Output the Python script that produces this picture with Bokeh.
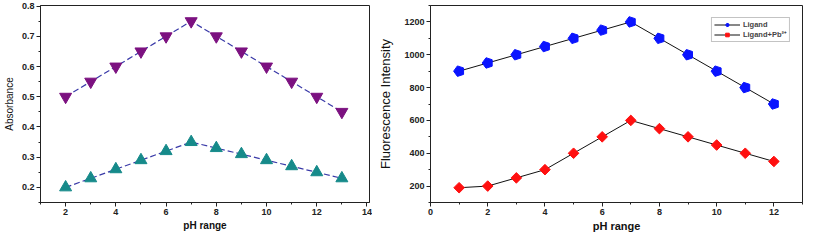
import math
from bokeh.plotting import figure
from bokeh.layouts import row
from bokeh.models import Range1d, SingleIntervalTicker, ColumnDataSource, Legend, LegendItem
from bokeh.embed import file_html
from bokeh.resources import INLINE

# ---- data ----
ph_left = [2, 3, 4, 5, 6, 7, 8, 9, 10, 11, 12, 13]
abs_upper = [0.50, 0.55, 0.60, 0.65, 0.70, 0.75, 0.70, 0.65, 0.60, 0.55, 0.50, 0.45]
abs_lower = [0.20, 0.23, 0.26, 0.29, 0.32, 0.35, 0.33, 0.31, 0.29, 0.27, 0.25, 0.23]

ph_right = [1, 2, 3, 4, 5, 6, 7, 8, 9, 10, 11, 12]
ligand = [900, 950, 1000, 1050, 1100, 1150, 1200, 1100, 1000, 900, 800, 700]
ligand_pb = [190, 200, 250, 300, 400, 500, 600, 550, 500, 450, 400, 350]

FONT = "Liberation Sans"
H = 234


def style(p, xint, yint):
    p.xgrid.visible = False
    p.ygrid.visible = False
    p.outline_line_color = "#222222"
    p.outline_line_width = 1
    p.xaxis.ticker = SingleIntervalTicker(interval=xint, num_minor_ticks=2)
    p.yaxis.ticker = SingleIntervalTicker(interval=yint, num_minor_ticks=2)
    for ax in (p.xaxis[0], p.yaxis[0]):
        ax.axis_line_color = "#222222"
        ax.major_tick_line_color = "#222222"
        ax.minor_tick_line_color = "#222222"
        ax.major_tick_in = 0
        ax.major_tick_out = 4
        ax.minor_tick_in = 0
        ax.minor_tick_out = 2
        ax.major_label_text_font = FONT
        ax.major_label_text_font_style = "bold"
        ax.major_label_text_font_size = "9px"
        ax.major_label_text_color = "#222222"
        ax.major_label_standoff = 2
        ax.axis_label_text_color = "#111111"
    p.xaxis.axis_label_standoff = 2


# ---- left chart ----
p1 = figure(width=372, height=H, output_backend="svg", toolbar_location=None,
            x_range=Range1d(1, 14.1), y_range=Range1d(0.15, 0.802),
            min_border_left=30, min_border_right=3, min_border_top=5, min_border_bottom=20)
style(p1, 2, 0.1)
p1.xaxis.axis_label = "pH range"
p1.xaxis.axis_label_text_font = FONT
p1.xaxis.axis_label_text_font_style = "bold"
p1.xaxis.axis_label_text_font_size = "10px"
p1.yaxis.axis_label = "Absorbance"
p1.yaxis.axis_label_text_font = FONT
p1.yaxis.axis_label_text_font_style = "normal"
p1.yaxis.axis_label_text_font_size = "10px"
p1.yaxis.axis_label_standoff = 4

p1.line(ph_left, abs_upper, line_color="#3a3aa8", line_width=1.2, line_dash="6 3")
p1.line(ph_left, abs_lower, line_color="#3a3aa8", line_width=1.2, line_dash="6 3")
p1.scatter(ph_left, abs_upper, marker="inverted_triangle", size=12,
           fill_color="#7c1180", line_color="#7c1180")
p1.scatter(ph_left, abs_lower, marker="triangle", size=12,
           fill_color="#168a8a", line_color="#168a8a")

# ---- right chart ----
p2 = figure(width=433, height=H, output_backend="svg", toolbar_location=None,
            x_range=Range1d(0, 13), y_range=Range1d(100, 1300),
            min_border_left=58, min_border_right=3, min_border_top=5, min_border_bottom=20)
style(p2, 2, 200)
p2.xaxis.axis_label = "pH range"
p2.xaxis.axis_label_text_font = FONT
p2.xaxis.axis_label_text_font_style = "bold"
p2.xaxis.axis_label_text_font_size = "11px"
p2.yaxis.axis_label = "Fluorescence Intensity"
p2.yaxis.axis_label_text_font = FONT
p2.yaxis.axis_label_text_font_style = "normal"
p2.yaxis.axis_label_text_font_size = "13px"
p2.yaxis.axis_label_standoff = 8

src_l = ColumnDataSource(dict(x=ph_right, y=ligand))
src_p = ColumnDataSource(dict(x=ph_right, y=ligand_pb))
l1 = p2.line("x", "y", source=src_l, line_color="#111111", line_width=1)
m1 = p2.ngon("x", "y", source=src_l, radius=5.5, radius_units="screen", n=5,
             angle=math.pi / 2, fill_color="#0a14ff", line_color="#0a14ff")
l2 = p2.line("x", "y", source=src_p, line_color="#111111", line_width=1)
m2 = p2.scatter("x", "y", source=src_p, marker="square", angle=math.pi / 4, size=7.5,
                fill_color="#ff1010", line_color="#ff1010")

legend = Legend(items=[LegendItem(label="Ligand", renderers=[l1, m1]),
                       LegendItem(label="Ligand+Pb²⁺", renderers=[l2, m2])],
                location="top_right", margin=12, padding=2, spacing=0,
                label_text_font=FONT, label_text_font_style="bold",
                label_text_font_size="7.5px", label_height=9, glyph_height=9,
                glyph_width=26, label_standoff=3,
                border_line_color="#888888", border_line_width=1,
                background_fill_alpha=1)
p2.add_layout(legend)

layout = row(p1, p2)
open("out.html", "w").write(file_html(layout, INLINE))
